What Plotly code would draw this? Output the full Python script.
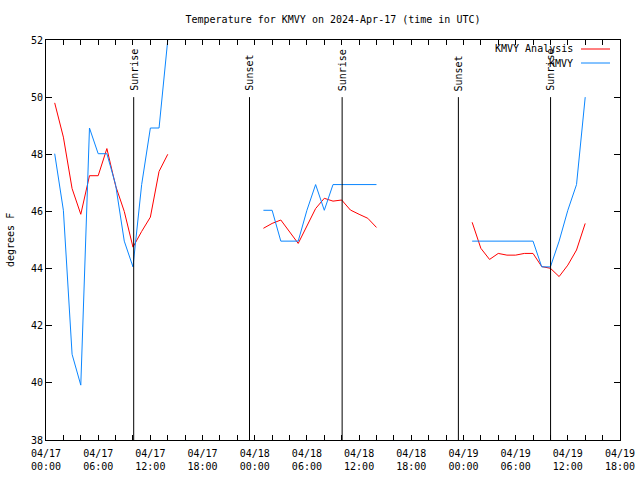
import plotly.graph_objects as go
import pandas as pd

T0 = pd.Timestamp("2024-04-17 00:00")

# hour offsets from 2024-04-17 00:00 UTC, split into three segments
seg_hours = [
    [1, 2, 3, 4, 5, 6, 7, 8, 9, 10, 11, 12, 13, 14],
    [25, 26, 27, 28, 29, 30, 31, 32, 33, 34, 35, 36, 37, 38],
    [49, 50, 51, 52, 53, 54, 55, 56, 57, 58, 59, 60, 61, 62],
]

analysis_vals = [
    [49.8, 48.6, 46.8, 45.9, 47.25, 47.25, 48.2, 46.9, 46.0, 44.75, 45.3, 45.8, 47.4, 48.0],
    [45.41, 45.58, 45.7, 45.29, 44.88, 45.49, 46.1, 46.46, 46.36, 46.4, 46.05, 45.9, 45.76, 45.44],
    [45.62, 44.71, 44.32, 44.53, 44.47, 44.47, 44.53, 44.53, 44.07, 44.01, 43.72, 44.12, 44.65, 45.58],
]

obs_vals = [
    [48.02, 46.04, 41.0, 39.92, 48.92, 48.02, 48.02, 46.94, 44.96, 44.06, 46.94, 48.92, 48.92, 52.0],
    [46.04, 46.04, 44.96, 44.96, 44.96, 46.04, 46.94, 46.04, 46.94, 46.94, 46.94, 46.94, 46.94, 46.94],
    [44.96, 44.96, 44.96, 44.96, 44.96, 44.96, 44.96, 44.96, 44.06, 44.06, 44.96, 46.04, 46.94, 50.0],
]

event_labels = ["Sunrise", "Sunset", "Sunrise", "Sunset", "Sunrise"]
event_times = ["2024-04-17 10:05", "2024-04-17 23:24", "2024-04-18 10:03",
               "2024-04-18 23:25", "2024-04-19 10:01"]

series_names = ["KMVY Analysis", "KMVY"]
series_colors = ["#ff0000", "#0a86ff"]

FONT = "DejaVu Sans Mono"


def build(vals_segments):
    xs, ys = [], []
    for hrs, vals in zip(seg_hours, vals_segments):
        xs += [T0 + pd.Timedelta(hours=h) for h in hrs] + [None]
        ys += list(vals) + [None]
    return xs, ys


fig = go.Figure()
for name, color, data in zip(series_names, series_colors, [analysis_vals, obs_vals]):
    x, y = build(data)
    fig.add_trace(go.Scatter(x=x, y=y, mode="lines", name=name,
                             line=dict(color=color, width=1),
                             connectgaps=False, showlegend=False,
                             hoverinfo="skip"))

for lab, t in zip(event_labels, event_times):
    fig.add_shape(type="line", xref="x", yref="y", x0=t, x1=t, y0=38, y1=50,
                  line=dict(color="black", width=1))
    fig.add_annotation(x=t, y=50, xref="x", yref="y", text=lab, textangle=-90,
                       showarrow=False, yanchor="bottom", xanchor="center",
                       yshift=4, font=dict(family=FONT, size=10, color="black"))

# gnuplot-style legend: text then line sample
L, R, TOP, BOT = 46, 620, 40, 440
W, H = R - L, BOT - TOP
for i, (name, color) in enumerate(zip(series_names, series_colors)):
    ypix = 49 + 14 * i
    yp = (BOT - ypix) / H
    fig.add_annotation(x=(575 - L) / W, y=yp, xref="paper", yref="paper", text=name,
                       showarrow=False, xanchor="right", yanchor="middle",
                       font=dict(family=FONT, size=10, color="black"))
    fig.add_shape(type="line", xref="paper", yref="paper",
                  x0=(581 - L) / W, x1=(610 - L) / W, y0=yp, y1=yp,
                  line=dict(color=color, width=1))

fig.add_annotation(x=(10 - L) / W, y=0.5, xref="paper", yref="paper", text="degrees F",
                   textangle=-90, showarrow=False, xanchor="center", yanchor="middle",
                   font=dict(family=FONT, size=10, color="black"))

fig.update_layout(
    width=640, height=480,
    margin=dict(l=L, r=640 - R, t=TOP, b=480 - BOT, autoexpand=False),
    paper_bgcolor="white", plot_bgcolor="white",
    font=dict(family=FONT, size=10, color="black"),
    hovermode=False,
    title=dict(text="Temperature for KMVY on 2024-Apr-17 (time in UTC)",
               x=0.5, xref="paper", y=1 - 19 / 480, yref="container",
               xanchor="center", yanchor="middle",
               font=dict(family=FONT, size=10, color="black")),
    xaxis=dict(type="date", range=["2024-04-17 00:00", "2024-04-19 18:00"],
               tick0="2024-04-17 00:00", dtick=6 * 3600 * 1000,
               tickformat="%m/%d<br>%H:%M", ticks="inside", ticklen=5,
               ticklabelstandoff=4, automargin=False,
               tickcolor="black", showline=True, linecolor="black", linewidth=1,
               mirror="ticks", showgrid=False, zeroline=False,
               minor=dict(dtick=2 * 3600 * 1000, ticks="inside", ticklen=5,
                          tickcolor="black", showgrid=False)),
    yaxis=dict(range=[38, 52], dtick=2, ticks="inside", ticklen=6, automargin=False,
               tickcolor="black", showline=True, linecolor="black", linewidth=1,
               mirror="ticks", showgrid=False, zeroline=False),
)

fig.write_html("out.html",
               config={"displayModeBar": False, "responsive": False},
               post_script="document.body.style.margin='0px';")
